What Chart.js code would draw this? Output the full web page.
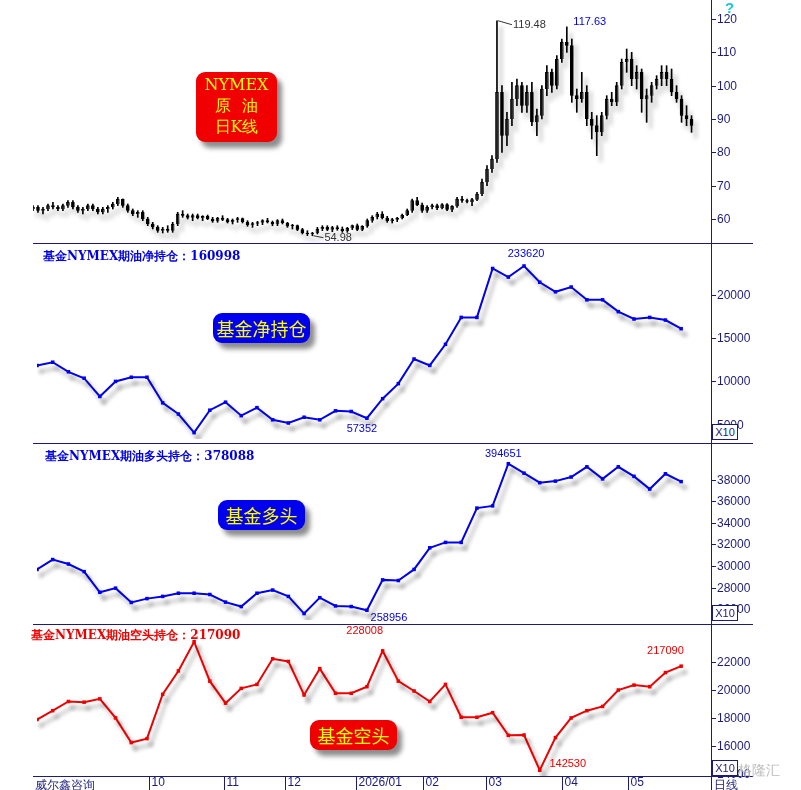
<!DOCTYPE html>
<html><head><meta charset="utf-8">
<script src="https://cdn.jsdelivr.net/npm/chart.js@4/dist/chart.umd.min.js"></script>
<style>
body{margin:0;background:#fff;width:801px;height:790px;overflow:hidden;position:relative;font-family:"Liberation Sans",Arial,sans-serif}
.pn{position:absolute;left:33px;width:768px}
.ln{position:absolute;background:#1c1c78}
.tx{position:absolute;font-size:11px;white-space:nowrap;font-family:"Liberation Sans Narrow","Liberation Sans",sans-serif}
.ttl{position:absolute;font:bold 12px "DejaVu Serif",serif;white-space:nowrap}
.badge{position:absolute;color:#ffff00;font:18px "Noto Sans CJK SC",serif;text-align:center;border-radius:9px;box-shadow:5px 6px 5px rgba(0,0,0,.45)}
.x10{position:absolute;left:712px;width:24px;height:14px;border:1px solid #1c1c78;background:#fff;font-size:11px;color:#1c1c78;text-align:center;line-height:14px}
</style></head><body>
<div class="pn" style="top:0;height:244px"><canvas id="c1"></canvas></div>
<div class="pn" style="top:244px;height:199px"><canvas id="c2"></canvas></div>
<div class="pn" style="top:444px;height:180px"><canvas id="c3"></canvas></div>
<div class="pn" style="top:625px;height:165px"><canvas id="c4"></canvas></div>

<div class="ln" style="left:711px;top:0;width:1px;height:790px"></div>
<div class="ln" style="left:33px;top:243px;width:720px;height:1px"></div>
<div class="ln" style="left:33px;top:443px;width:720px;height:1px"></div>
<div class="ln" style="left:33px;top:624px;width:720px;height:1px"></div>
<div class="ln" style="left:33px;top:776px;width:720px;height:1px"></div>

<div class="tx" style="left:725px;top:-1px;color:#19c8d8;font:bold 15px sans-serif">?</div>
<div class="ttl" style="left:43px;top:248px;color:#0000e0">基金NYMEX期油净持仓：160998</div>
<div class="ttl" style="left:45px;top:448px;color:#0000e0">基金NYMEX期油多头持仓：378088</div>
<div class="ttl" style="left:31px;top:627px;color:#ee0000">基金NYMEX期油空头持仓：217090</div>

<div class="badge" style="left:196px;top:72px;width:81px;height:68px;background:#f00000;font:16px 'DejaVu Serif',serif;line-height:21px;padding-top:2px">NYMEX<br>原&nbsp;&nbsp;油<br>日K线</div>
<div class="badge" style="left:213px;top:313px;width:97px;height:30px;line-height:30px;background:#0000ee">基金净持仓</div>
<div class="badge" style="left:218px;top:500px;width:87px;height:30px;line-height:30px;background:#0000ee">基金多头</div>
<div class="badge" style="left:310px;top:720px;width:87px;height:30px;line-height:30px;background:#ee0000">基金空头</div>

<div class="x10" style="top:424px">X10</div>
<div class="x10" style="top:605px">X10</div>
<div class="x10" style="top:760px">X10</div>

<div class="tx" style="left:35px;top:777px;font-size:12px;color:#1c1c78">威尔鑫咨询</div>
<div class="tx" style="left:714px;top:777px;font-size:12px;color:#1c1c78">日线</div>
<div class="tx" style="left:738px;top:762px;font-size:14px;color:#bbb">格隆汇</div>

<script>
// weekly fund positions (axis units, x10)
const netPos = [11852,12222,11111,10370,8259,10000,10481,10481,7519,6222,4074,6667,7593,6037,6963,5556,5185,5852,5556,6593,6519,5735,8000,9741,12593,11852,14296,17407,17407,23074,22074,23362,21481,20370,20926,19444,19444,18074,17222,17407,17100,16100];
const longPos = [29676,30588,30176,29471,27559,27941,26618,26971,27176,27471,27471,27353,26647,26235,27471,27765,27176,25588,27059,26294,26235,25896,28706,28647,29676,31676,32176,32176,35353,35559,39465,38588,37706,37853,38235,39176,38059,39176,38294,37118,38529,37809];
const shortPos = [17882,18518,19176,19129,19365,18000,16235,16518,19694,21365,23459,20635,19059,20118,20400,22235,22047,19647,21529,19765,19765,20235,22801,20635,19929,19176,20400,18047,18047,18376,16753,16776,14253,16588,18000,18518,18824,20000,20353,20235,21247,21709];

// daily NYMEX crude candles [open, high, low, close]
const candles = [
[63,64,62.5,63.5],[63.5,64,62,62.5],[62.5,63.5,61.5,63],[63,64.5,62.5,64],[64,65,63,63.5],[63.5,64,62.5,63],[63,64.5,62.5,64],[64,65.5,63.5,65],[65,65.5,63,63.5],[63.5,64,62,62.5],[62.5,63.5,61.5,63],[63,64.5,62.5,64],[64,64.5,62.5,63],[63,63.5,61.5,62],[62,63.5,61.5,63],[63,64,62,63.5],[63.5,65,63,64.5],[64.5,66.5,64,66],[66,66,63.5,64],[64,64.5,62,62.5],[62.5,63,61,61.5],
[61.5,62.5,60.5,62],[62,62.5,59.5,60],[60,60.5,58,58.5],[58.5,59,57,57.5],[57.5,58,56,56.5],[56.5,57.5,55.8,57],[57,58,56,56.5],[56.5,59,56,58.5],[58.5,62,58,61.5],[61.5,62.5,60.5,61],[61,61.5,60,60.5],[60.5,61.5,59.5,61],
[61,61.5,60,60.2],[60.2,61,59.5,60.8],[60.8,61.2,59.8,60],[60,60.5,59,59.3],[59.3,60.5,59,60.3],[60.3,61,59.5,59.8],[59.8,60.2,58.8,59],[59,60,58.5,59.7],[59.7,60.5,59,60.1],[60.1,60.3,58.8,59.1],[59.1,59.5,57.8,58.2],[58.2,59,57.5,58.6],[58.6,59.3,58,58.9],[58.9,59.8,58.3,59.5],[59.5,60.2,58.8,59],[59,59.4,58,58.4],[58.4,59.8,58,59.5],[59.5,60,58.5,58.8],[58.8,59,57.5,57.8],[57.8,58.4,57,58],[58,58.2,56.5,56.8],[56.8,57.2,55.5,55.8],
[55.8,56.5,55,55.5],[55.5,56,54.98,55.8],[55.8,57.5,55.5,57],[57,58,56.5,57.5],[57.5,58,56.5,56.8],[56.8,57.8,56.2,57.4],[57.4,58,56.6,57],[57,57.6,56,56.4],[56.4,57.5,56,57.2],[57.2,58.2,56.8,58],[58,58.5,56.5,56.8],[56.8,58,56.5,57.8],
[57.8,60,57.5,59.5],[59.5,61,59,60.5],[60.5,62,60,61.5],[61.5,62.2,60,60.3],[60.3,60.8,59,59.4],[59.4,60.2,58.8,59.8],[59.8,60.5,59.2,60.2],[60.2,61.5,60,61.2],[61.2,63,61,62.5],[62.5,66,62,65.5],[65.5,66.5,64,64.2],[64.2,64.8,62,62.5],[62.5,64,62,63.5],[63.5,64.5,63,64],[64,64.5,62.8,63.2],[63.2,64.6,63,64.3],[64.3,64.6,62.5,62.8],[62.8,64,62.2,63.8],[63.8,66.5,63.5,66],[66,66.8,65,65.5],[65.5,66,64.8,65.2],[65.2,66.2,64,65.8],
[65.8,68,65.5,67.5],[67.5,72,67,71],[71,76,70,75],[75,79,74,78],[78,119.48,77,98],
[98,100,80,85],[85,92,82,90],[90,101,88,96],[96,102,94,100],[100,101,92,94],[94,100,92,98],[98,101,88,89],[89,93,85,91],[91,100,90,99],[99,106,97,104],[104,105,98,100],[100,109,99,108],
[108,114,107,113],[113,117.63,110,112],[112,114,95,97],[97,99,92,96],[96,104,95,98],[98,100,88,90],[90,92,84,88],[88,91,79,86],
[86,92,85,91],[91,97,90,96],[96,98,94,95],[95,101,94,100],[100,108,99,107],[107,111,104,108],[108,110,100,102],[102,106,99,104],
[104,105,92,96],[96,99,89,97],[97,101,95,100],[100,103,99,102],[102,106,100,104],[104,106,100,102],[102,105,97,98],[98,100,95,96],[96,97,89,91],[91,94,88,90],[90,91,86,88]
];

const priceTicks = [60,70,80,90,100,110,120];
const netTicks = [5000,10000,15000,20000];
const longTicks = [26000,28000,30000,32000,34000,36000,38000];
const shortTicks = [14000,16000,18000,20000,22000];

// month separators (week index) and labels
const monthPos = [7.15,11.9,15.8,20.3,24.6,28.6,33.4,37.6];
const monthLabels = ['10','11','12','2026/01','02','03','04','05'];

const NAVY = '#1c1c78';

const shadowPlugin = {
  id:'shadow',
  beforeDatasetsDraw(c){const x=c.ctx;x.save();x.shadowColor='rgba(0,0,0,0.35)';x.shadowOffsetX=4;x.shadowOffsetY=6;x.shadowBlur=4;},
  afterDatasetsDraw(c){c.ctx.restore();}
};

// right value axis drawn by hand so the plot uses the full panel height
function axisPlugin(ticks){
  return {id:'raxis',afterDraw(c){
    const x=c.ctx,sy=c.scales.y,r=c.chartArea.right;
    x.save();x.strokeStyle=NAVY;x.fillStyle=NAVY;x.font='12px "Liberation Sans"';x.textBaseline='middle';x.textAlign='left';
    ticks.forEach(v=>{const py=Math.round(sy.getPixelForValue(v))+0.5;
      x.beginPath();x.moveTo(r,py);x.lineTo(r+5,py);x.stroke();x.fillText(String(v),r+6,py);});
    x.restore();}};
}

// annotation labels: [index, value, text, dx, dy, color, leader]
function notesPlugin(notes){
  return {id:'notes', afterDraw(c){
    const x=c.ctx, sx=c.scales.x, sy=c.scales.y;
    x.save();x.font='11px "Liberation Sans Narrow", "Liberation Sans"';x.textBaseline='middle';
    notes.forEach(n=>{
      const px=sx.getPixelForValue(n[0]), py=sy.getPixelForValue(n[1]);
      x.fillStyle=n[5];
      if(n[6]){x.strokeStyle='#333';x.lineWidth=1;x.beginPath();x.moveTo(px+1,py);x.lineTo(px+n[3]-1,py+n[4]);x.stroke();x.fillStyle='#333';}
      x.textAlign=n[6]?'left':'center';
      x.fillText(n[2],px+n[3],py+n[4]);
    });
    x.restore();
  }};
}

function yAxis(min,max){return {min:min,max:max,display:false};}
function xAxis(max){return {type:'linear',min:0,max:max,display:false,offset:false};}

const baseOpts = {responsive:true,maintainAspectRatio:false,animation:false,
  layout:{padding:{right:90}},plugins:{legend:{display:false},tooltip:{enabled:false}}};

// price candles
const wick = candles.map((c,i)=>({x:i,y:[c[2],c[1]]}));
const body = candles.map((c,i)=>({x:i,y:[Math.min(c[0],c[3]),Math.max(c[0],c[3])]}));
new Chart(document.getElementById('c1'),{type:'bar',
  data:{datasets:[
    {data:wick,backgroundColor:'#000',barThickness:1,grouped:false},
    {data:body,barThickness:3,grouped:false,minBarLength:1,borderWidth:1,borderColor:'#000',
     backgroundColor:candles.map(c=>c[3]>=c[0]?'#fff':'#000')}]},
  options:{...baseOpts,scales:{x:xAxis(135.9),y:yAxis(52.5,125.7)}},
  plugins:[shadowPlugin,axisPlugin(priceTicks),notesPlugin([[93,119.48,'119.48',16,4,'#333',true],[114,117.63,'117.63',-12,-5,'#0000e0',false],[56,54.98,'54.98',12,2,'#333',true]])]
});

function lineChart(id,data,color,min,max,ticks,notes,extra){
  new Chart(document.getElementById(id),{type:'line',
    data:{datasets:[{data:data.map((v,i)=>({x:i,y:v})),borderColor:color,backgroundColor:color,borderWidth:2,
      pointStyle:'rect',pointRadius:2.5,pointBorderWidth:0,tension:0}]},
    options:{...baseOpts,layout:{padding:{right:90,bottom:extra?14:0}},scales:{x:xAxis(42.9),y:yAxis(min,max)}},
    plugins:[shadowPlugin,axisPlugin(ticks),notesPlugin(notes)].concat(extra?[extra]:[])
  });
}

lineChart('c2',netPos,'#0000ee',3333,25444,netTicks,[[31,23362,'233620',2,-12,'#0000e0'],[21,5735,'57352',-5,11,'#0000e0']]);
lineChart('c3',longPos,'#0000ee',24991,40920,longTicks,[[30,39465,'394651',-5,-10,'#0000e0'],[21,25896,'258956',22,8,'#0000e0']]);

const monthPlugin = {id:'months',afterDraw(c){
  const x=c.ctx,sx=c.scales.x,b=c.chartArea.bottom;
  x.save();x.strokeStyle=NAVY;x.fillStyle=NAVY;x.font='12px "Liberation Sans Narrow", "Liberation Sans"';x.textBaseline='top';
  monthPos.forEach((p,i)=>{const px=Math.round(sx.getPixelForValue(p))+0.5;
    x.beginPath();x.moveTo(px,b);x.lineTo(px,b+14);x.stroke();x.fillText(monthLabels[i],px+2,b+1);});
  x.restore();}};
lineChart('c4',shortPos,'#ee0000',13838,24372,shortTicks,[[22,22801,'228008',-18,-20,'#ee0000'],[40,21247,'217090',0,-22,'#ee0000'],[32,14253,'142530',28,-6,'#ee0000']],monthPlugin);
</script>
</body></html>
